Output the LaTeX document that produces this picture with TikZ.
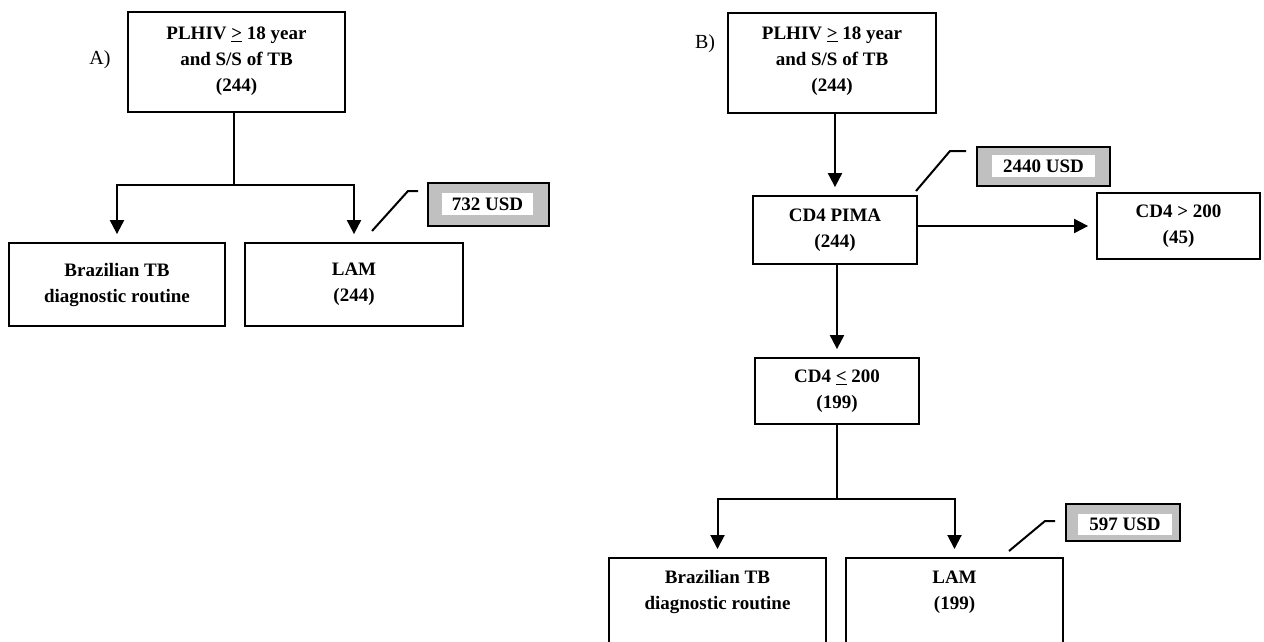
\documentclass[tikz,border=0pt]{standalone}
\usepackage{fontspec}
\setmainfont{Liberation Serif}
\usetikzlibrary{arrows.meta}
\definecolor{costgray}{RGB}{192,192,192}
\tikzset{
  box/.style={draw, line width=1.8pt, align=center, inner sep=0pt},
  txt/.style={align=center, inner sep=0pt, font=\fontsize{19}{26}\selectfont\bfseries},
  costbox/.style={draw, line width=2pt, fill=costgray, inner sep=0pt},
  costtxt/.style={fill=white, inner sep=0pt, font=\fontsize{19}{20}\selectfont\bfseries},
  conn/.style={line width=2pt},
  arr/.style={line width=2pt, -{Triangle[length=14pt,width=14pt]}, shorten >=8pt},
  lbl/.style={inner sep=0pt, font=\fontsize{20}{20}\selectfont},
}
\begin{document}
\begin{tikzpicture}[x=1pt,y=-1pt]
\useasboundingbox (0,0) rectangle (1264,641);
% ---------- A ----------
\node[box, minimum width=217pt, minimum height=100pt] (A1) at (236.5,62) {};
\node[txt] (A1t) at (236.5,61) {PLHIV \underline{>} 18 year\\and S/S of TB\\(244)};
\node[lbl] (Alab) at (100,60) {A)};
\node[box, txt, minimum width=216pt, minimum height=83pt] (ABr) at (117,284.5) {Brazilian TB\\diagnostic routine};
\node[box, txt, minimum width=218pt, minimum height=83pt] (ALAM) at (354,284.5) {LAM\\(244)};
\node[costbox, minimum width=121pt, minimum height=43pt] (Ac) at (488.5,204.5) {};
\node[costtxt, minimum width=91pt, minimum height=22pt] (Act) at (487.5,204) {732 USD};
\coordinate (aj) at (234,185);
\draw[conn] (A1.south -| aj) -- (aj);
\draw[arr] (aj) -| (ABr.north);
\draw[arr] (aj) -| (ALAM.north);
\coordinate (ca1) at (372,231);
\coordinate (ca2) at (408,191);
\coordinate (ca3) at (418,191);
\draw[conn] (ca1) -- (ca2) -- (ca3);
% ---------- B ----------
\node[box, minimum width=208pt, minimum height=100pt] (B1) at (832,63) {};
\node[txt] (B1t) at (832,61) {PLHIV \underline{>} 18 year\\and S/S of TB\\(244)};
\node[lbl] (Blab) at (705,44) {B)};
\node[box, txt, minimum width=164pt, minimum height=68pt] (PIMA) at (835,230) {CD4 PIMA\\(244)};
\node[box, txt, minimum width=163pt, minimum height=66pt] (GT) at (1178.5,226) {CD4 > 200\\(45)};
\node[box, txt, minimum width=164pt, minimum height=66pt] (LE) at (837,391) {CD4 \underline{<} 200\\(199)};
\node[box, minimum width=217pt, minimum height=100pt, anchor=north] (BBr) at (717.5,557) {};
\node[txt] (BBrt) at (717.5,592) {Brazilian TB\\diagnostic routine};
\node[box, minimum width=217pt, minimum height=100pt, anchor=north] (BLAM) at (954.5,557) {};
\node[txt] (BLAMt) at (954.5,592) {LAM\\(199)};
\node[costbox, minimum width=133pt, minimum height=39pt] (Bc1) at (1043.5,166.5) {};
\node[costtxt, minimum width=103pt, minimum height=22pt] (Bc1t) at (1043.5,166) {2440 USD};
\node[costbox, minimum width=114pt, minimum height=37pt] (Bc2) at (1123,522.5) {};
\node[costtxt, minimum width=94pt, minimum height=21pt] (Bc2t) at (1125,524.5) {597 USD};
\draw[arr] (PIMA.north |- B1.south) -- (PIMA.north);
\draw[arr] (PIMA.east |- GT.west) -- (GT.west);
\draw[arr] (PIMA.south -| LE.north) -- (LE.north);
\coordinate (bj) at (837,499);
\draw[conn] (LE.south) -- (bj);
\draw[arr] (bj) -| (BBr.north);
\draw[arr] (bj) -| (BLAM.north);
\coordinate (cb1) at (916,191);
\coordinate (cb2) at (950,151);
\coordinate (cb3) at (966,151);
\draw[conn] (cb1) -- (cb2) -- (cb3);
\coordinate (cc1) at (1009,551);
\coordinate (cc2) at (1045,521);
\coordinate (cc3) at (1055,521);
\draw[conn] (cc1) -- (cc2) -- (cc3);
\end{tikzpicture}
\end{document}
